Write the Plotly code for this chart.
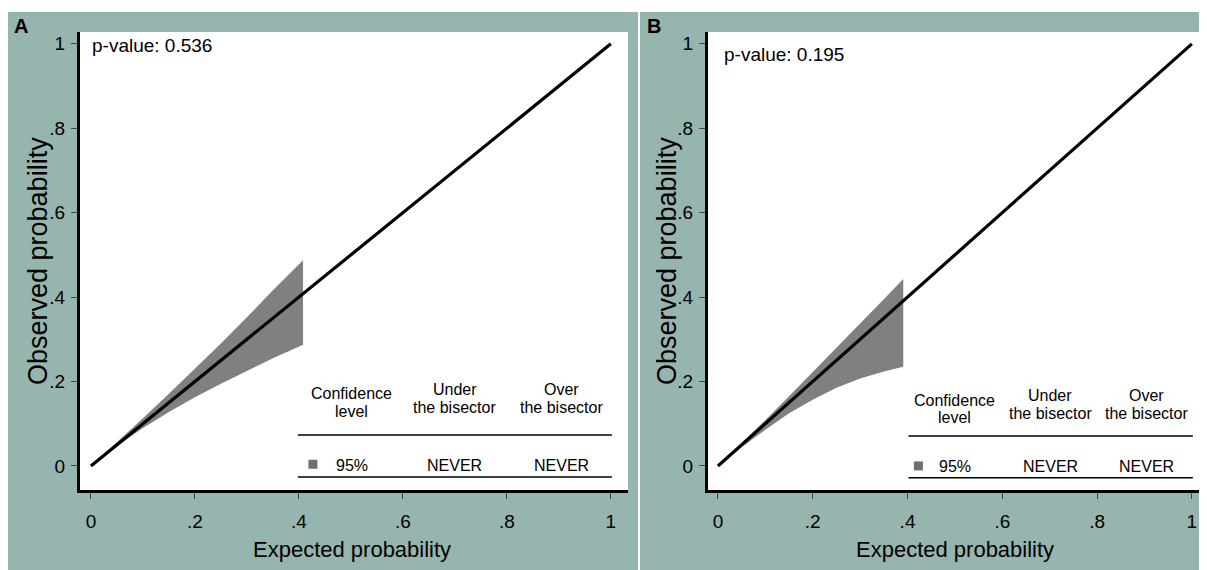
import plotly.graph_objects as go

# ---------------- data ----------------
diag_x = [0, 1]
diag_y = [0, 1]

# Panel A 95% band
a_band_x = [0, 0.05, 0.1, 0.15, 0.2, 0.25, 0.3, 0.35, 0.408]
a_upper = [0, 0.056, 0.113, 0.171, 0.23, 0.29, 0.352, 0.416, 0.487]
a_lower = [0, 0.047, 0.09, 0.128, 0.163, 0.195, 0.225, 0.255, 0.287]

# Panel B 95% band
b_band_x = [0, 0.05, 0.1, 0.15, 0.2, 0.25, 0.3, 0.35, 0.391]
b_upper = [0, 0.054, 0.109, 0.165, 0.222, 0.28, 0.338, 0.395, 0.443]
b_lower = [0, 0.044, 0.086, 0.125, 0.157, 0.185, 0.207, 0.224, 0.235]

p_values = ["0.536", "0.195"]
panel_letters = ["A", "B"]
tick_vals = [0, 0.2, 0.4, 0.6, 0.8, 1]
tick_text = ["0", ".2", ".4", ".6", ".8", "1"]
table_header = ["Confidence<br>level", "Under<br>the bisector", "Over<br>the bisector"]
table_row = ["95%", "NEVER", "NEVER"]

# ---------------- style ----------------
TEAL = "#96b5ae"
BAND = "#808080"
FONT = "Liberation Sans, Arial, sans-serif"
OFF = 8                      # browser body margin
W, H = 1207 - 2 * OFF, 570 - OFF

def px(x):
    return (x - OFF) / W

def py(y):
    return (H - (y - OFF)) / H

fig = go.Figure()

panels = [
    dict(xa="x", ya="y", bx=a_band_x, up=a_upper, lo=a_lower,
         dom=[px(80), px(628)], xr=[-0.021, 1.033],
         sq_x=0.427, cols=[0.502, 0.700, 0.906], t0=0.398, t1=1.002,
         head1=0.171, head2=0.128, rule=0.0735, row=0.002, bottom=-0.026,
         pv=(-0.002, 0.995), letter=(21, 26), ytitle=38, xtitle=352),
    dict(xa="x2", ya="y2", bx=b_band_x, up=b_upper, lo=b_lower,
         dom=[px(708), px(1199)], xr=[-0.021, 1.015],
         sq_x=0.423, cols=[0.500, 0.701, 0.904], t0=0.402, t1=1.002,
         head1=0.156, head2=0.114, rule=0.071, row=-0.002, bottom=-0.028,
         pv=(0.008, 0.974), letter=(654, 26), ytitle=667, xtitle=955),
]

shapes = [
    # white top strip and divider
    dict(type="rect", xref="paper", yref="paper", x0=0, x1=1, y0=py(12), y1=1,
         fillcolor="white", line=dict(width=0), layer="below"),
    dict(type="rect", xref="paper", yref="paper", x0=px(638), x1=px(640), y0=0, y1=py(12),
         fillcolor="white", line=dict(width=0), layer="below"),
]
annotations = []

for i, p in enumerate(panels):
    # band polygon
    fig.add_trace(go.Scatter(
        x=p["bx"] + p["bx"][::-1], y=p["up"] + p["lo"][::-1],
        fill="toself", fillcolor=BAND, mode="lines", line=dict(width=0, color=BAND),
        xaxis=p["xa"], yaxis=p["ya"], showlegend=False, hoverinfo="skip"))
    # bisector
    fig.add_trace(go.Scatter(
        x=diag_x, y=diag_y, mode="lines", line=dict(color="black", width=3.2),
        xaxis=p["xa"], yaxis=p["ya"], showlegend=False))
    # legend square
    fig.add_trace(go.Scatter(
        x=[p["sq_x"]], y=[p["row"] + 0.002], mode="markers",
        marker=dict(symbol="square", size=9, color="#707070"),
        xaxis=p["xa"], yaxis=p["ya"], showlegend=False))

    # table rules
    for yv in (p["rule"], p["bottom"]):
        shapes.append(dict(type="line", xref=p["xa"], yref=p["ya"],
                           x0=p["t0"], x1=p["t1"], y0=yv, y1=yv,
                           line=dict(color="black", width=1.5)))
    # headers
    for j, (cx, txt) in enumerate(zip(p["cols"], table_header)):
        l1, l2 = txt.split("<br>")
        off = 0.0 if j == 0 else 0.01
        annotations.append(dict(x=cx, y=p["head1"] + off, xref=p["xa"], yref=p["ya"],
                                text=l1, showarrow=False, xanchor="center", yanchor="middle",
                                font=dict(family=FONT, size=16, color="black")))
        annotations.append(dict(x=cx, y=p["head2"] + off, xref=p["xa"], yref=p["ya"],
                                text=l2, showarrow=False, xanchor="center", yanchor="middle",
                                font=dict(family=FONT, size=16, color="black")))
    for cx, txt in zip(p["cols"], table_row):
        annotations.append(dict(x=cx, y=p["row"], xref=p["xa"], yref=p["ya"],
                                text=txt, showarrow=False, xanchor="center", yanchor="middle",
                                font=dict(family=FONT, size=16, color="black")))
    # p-value
    annotations.append(dict(x=p["pv"][0], y=p["pv"][1], xref=p["xa"], yref=p["ya"],
                            text="p-value: " + p_values[i], showarrow=False,
                            xanchor="left", yanchor="middle",
                            font=dict(family=FONT, size=19, color="black")))
    # panel letter
    annotations.append(dict(x=px(p["letter"][0]), y=py(p["letter"][1]), xref="paper", yref="paper",
                            text="<b>" + panel_letters[i] + "</b>", showarrow=False,
                            xanchor="center", yanchor="middle",
                            font=dict(family=FONT, size=20, color="black")))
    # axis titles
    annotations.append(dict(x=px(p["ytitle"]), y=py(261), xref="paper", yref="paper",
                            text="Observed probability", textangle=-90, showarrow=False,
                            xanchor="center", yanchor="middle",
                            font=dict(family=FONT, size=27, color="black")))
    annotations.append(dict(x=px(p["xtitle"]), y=py(549), xref="paper", yref="paper",
                            text="Expected probability", showarrow=False,
                            xanchor="center", yanchor="middle",
                            font=dict(family=FONT, size=22, color="black")))

axis_common = dict(showgrid=False, zeroline=False, showline=True, linecolor="black",
                   linewidth=3, ticks="outside", ticklen=6, tickcolor="#444", tickwidth=1,
                   tickvals=tick_vals, ticktext=tick_text,
                   tickfont=dict(family=FONT, size=19, color="black"), mirror=False)

ydom = [py(490), py(32)]
fig.update_layout(
    width=W, height=H,
    margin=dict(l=0, r=0, t=0, b=0),
    paper_bgcolor=TEAL, plot_bgcolor="white",
    xaxis=dict(domain=panels[0]["dom"], range=panels[0]["xr"], anchor="y",
               ticklabelstandoff=6, **axis_common),
    yaxis=dict(domain=ydom, range=[-0.057, 1.028], anchor="x",
               ticklabelstandoff=2, **axis_common),
    xaxis2=dict(domain=panels[1]["dom"], range=panels[1]["xr"], anchor="y2",
                ticklabelstandoff=6, **axis_common),
    yaxis2=dict(domain=ydom, range=[-0.057, 1.028], anchor="x2",
                ticklabelstandoff=2, **axis_common),
    shapes=shapes, annotations=annotations, showlegend=False,
)

fig.write_html("out.html")
